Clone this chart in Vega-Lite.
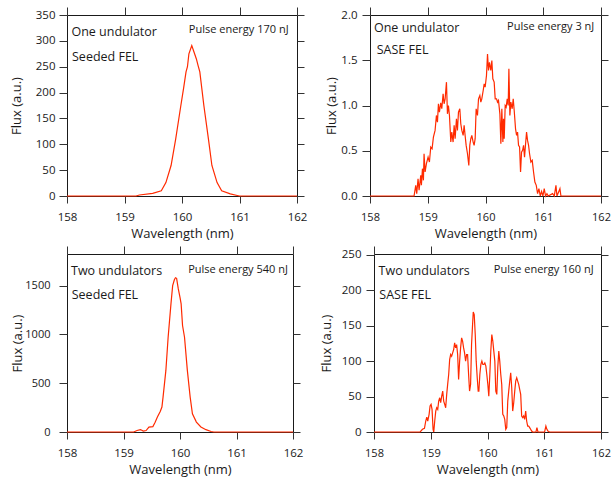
{
  "$schema": "https://vega.github.io/schema/vega-lite/v6.json",
  "padding": {"left": 9, "top": 6, "right": 0, "bottom": 0},
  "background": "white",
  "config": {
    "font": "Open Sans",
    "view": {"stroke": "#1a1a1a", "strokeWidth": 1},
    "axis": {"labelFont": "Open Sans", "labelFontSize": 11.5, "labelColor": "#1a1a1a", "titleFont": "Open Sans", "titleFontSize": 13, "titleFontWeight": "normal", "titleColor": "#1a1a1a", "tickColor": "#333333", "domain": false, "grid": false, "labelFlush": false, "labelOverlap": false},
    "text": {"font": "Open Sans", "color": "#1a1a1a"},
    "line": {"color": "#ff2a00", "strokeWidth": 1.2}
  },
  "spacing": 4,
  "vconcat": [
    {
      "spacing": 17,
      "hconcat": [
        {
          "width": 230, "height": 181,
          "data": {"values": [
            {"nm":158,"flux":0},{"nm":159.2,"flux":0},{"nm":159.26,"flux":2},{"nm":159.49,"flux":5},{"nm":159.64,"flux":10},{"nm":159.72,"flux":26},{"nm":159.81,"flux":59},{"nm":159.89,"flux":110},{"nm":159.98,"flux":175},{"nm":160.03,"flux":210},{"nm":160.07,"flux":240},{"nm":160.095,"flux":250},{"nm":160.12,"flux":275},{"nm":160.17,"flux":291},{"nm":160.21,"flux":278},{"nm":160.25,"flux":265},{"nm":160.28,"flux":252},{"nm":160.31,"flux":240},{"nm":160.38,"flux":175},{"nm":160.46,"flux":110},{"nm":160.52,"flux":59},{"nm":160.61,"flux":26},{"nm":160.69,"flux":10},{"nm":160.84,"flux":4},{"nm":160.96,"flux":1},{"nm":161.0,"flux":0},{"nm":162,"flux":0}
          ]},
          "layer": [
            {"mark": {"type": "line"},
             "encoding": {
               "x": {"field": "nm", "type": "quantitative", "scale": {"domain": [158, 162], "nice": false, "zero": false}, "axis": {"orient": "bottom", "values": [158,159,160,161,162], "title": "Wavelength (nm)", "tickSize": 7, "labelPadding": 8, "titlePadding": 5}},
               "y": {"field": "flux", "type": "quantitative", "scale": {"domain": [0, 350], "nice": false}, "axis": {"orient": "left", "values": [0,50,100,150,200,250,300,350], "title": "Flux (a.u.)", "tickSize": 8, "labelPadding": 4, "titlePadding": 12}}
             }},
            {"data": {"values": [{"label": "One undulator"}]},
             "mark": {"type": "text", "align": "left", "baseline": "alphabetic", "fontSize": 12.5},
             "encoding": {"text": {"field": "label"},
               "x": {"datum": 158.077, "type": "quantitative", "axis": {"orient": "top", "values": [158,159,160,161,162], "labels": false, "title": null, "tickSize": 8}},
               "y": {"datum": 309, "type": "quantitative", "axis": {"orient": "right", "values": [0,50,100,150,200,250,300,350], "labels": false, "title": null, "tickSize": 7}}}},
            {"data": {"values": [{"label": "Seeded FEL"}]},
             "mark": {"type": "text", "align": "left", "baseline": "alphabetic", "fontSize": 12.5},
             "encoding": {"text": {"field": "label"},
               "x": {"datum": 158.087, "type": "quantitative", "axis": null},
               "y": {"datum": 261.6, "type": "quantitative", "axis": null}}},
            {"data": {"values": [{"label": "Pulse energy 170 nJ"}]},
             "mark": {"type": "text", "align": "right", "baseline": "alphabetic", "fontSize": 11},
             "encoding": {"text": {"field": "label"},
               "x": {"datum": 161.854, "type": "quantitative", "axis": null},
               "y": {"datum": 316, "type": "quantitative", "axis": null}}}
          ],
          "resolve": {"axis": {"x": "independent", "y": "independent"}}
        },
        {
          "width": 231, "height": 181,
          "data": {"values": [
            {"nm":158,"flux":0},{"nm":158.763,"flux":0},{"nm":158.792,"flux":0.118},{"nm":158.809,"flux":0.026},{"nm":158.832,"flux":0.191},{"nm":158.85,"flux":0.063},{"nm":158.879,"flux":0.228},{"nm":158.89,"flux":0.118},{"nm":158.908,"flux":0.302},{"nm":158.925,"flux":0.173},{"nm":158.936,"flux":0.467},{"nm":158.954,"flux":0.265},{"nm":158.977,"flux":0.357},{"nm":159.006,"flux":0.43},{"nm":159.029,"flux":0.375},{"nm":159.052,"flux":0.541},{"nm":159.075,"flux":0.522},{"nm":159.098,"flux":0.651},{"nm":159.127,"flux":0.725},{"nm":159.15,"flux":0.89},{"nm":159.168,"flux":0.816},{"nm":159.185,"flux":1.019},{"nm":159.202,"flux":0.927},{"nm":159.225,"flux":1.03},{"nm":159.243,"flux":0.964},{"nm":159.266,"flux":1.129},{"nm":159.283,"flux":1.019},{"nm":159.301,"flux":1.074},{"nm":159.324,"flux":1.258},{"nm":159.341,"flux":0.908},{"nm":159.358,"flux":1.0},{"nm":159.376,"flux":0.89},{"nm":159.399,"flux":0.596},{"nm":159.416,"flux":0.706},{"nm":159.439,"flux":0.596},{"nm":159.457,"flux":0.78},{"nm":159.474,"flux":0.633},{"nm":159.497,"flux":0.853},{"nm":159.514,"flux":0.725},{"nm":159.532,"flux":0.927},{"nm":159.555,"flux":0.964},{"nm":159.572,"flux":0.798},{"nm":159.59,"flux":0.725},{"nm":159.613,"flux":0.669},{"nm":159.63,"flux":0.78},{"nm":159.647,"flux":0.669},{"nm":159.665,"flux":0.559},{"nm":159.688,"flux":0.467},{"nm":159.711,"flux":0.338},{"nm":159.728,"flux":0.559},{"nm":159.746,"flux":0.633},{"nm":159.763,"flux":0.669},{"nm":159.786,"flux":0.596},{"nm":159.803,"flux":0.559},{"nm":159.821,"flux":0.633},{"nm":159.838,"flux":0.964},{"nm":159.861,"flux":0.89},{"nm":159.879,"flux":1.074},{"nm":159.902,"flux":1.111},{"nm":159.919,"flux":1.037},{"nm":159.936,"flux":1.074},{"nm":159.96,"flux":1.166},{"nm":159.977,"flux":1.239},{"nm":159.994,"flux":1.203},{"nm":160.017,"flux":1.331},{"nm":160.035,"flux":1.57},{"nm":160.052,"flux":1.387},{"nm":160.069,"flux":1.478},{"nm":160.092,"flux":1.387},{"nm":160.11,"flux":1.497},{"nm":160.127,"flux":1.295},{"nm":160.15,"flux":1.258},{"nm":160.168,"flux":1.074},{"nm":160.191,"flux":1.074},{"nm":160.208,"flux":1.037},{"nm":160.225,"flux":1.056},{"nm":160.249,"flux":0.908},{"nm":160.266,"flux":0.577},{"nm":160.283,"flux":0.964},{"nm":160.301,"flux":0.596},{"nm":160.312,"flux":0.853},{"nm":160.324,"flux":0.633},{"nm":160.341,"flux":1.0},{"nm":160.358,"flux":0.982},{"nm":160.376,"flux":1.074},{"nm":160.393,"flux":1.0},{"nm":160.405,"flux":1.405},{"nm":160.422,"flux":0.89},{"nm":160.439,"flux":1.037},{"nm":160.462,"flux":0.964},{"nm":160.48,"flux":1.074},{"nm":160.497,"flux":0.945},{"nm":160.52,"flux":0.743},{"nm":160.538,"flux":0.669},{"nm":160.555,"flux":0.706},{"nm":160.572,"flux":0.559},{"nm":160.59,"flux":0.541},{"nm":160.607,"flux":0.265},{"nm":160.624,"flux":0.485},{"nm":160.642,"flux":0.504},{"nm":160.659,"flux":0.559},{"nm":160.676,"flux":0.43},{"nm":160.694,"flux":0.577},{"nm":160.711,"flux":0.706},{"nm":160.728,"flux":0.614},{"nm":160.746,"flux":0.559},{"nm":160.763,"flux":0.467},{"nm":160.786,"flux":0.375},{"nm":160.809,"flux":0.394},{"nm":160.832,"flux":0.265},{"nm":160.855,"flux":0.154},{"nm":160.879,"flux":0.118},{"nm":160.902,"flux":0.026},{"nm":160.925,"flux":0.081},{"nm":160.948,"flux":0},{"nm":160.971,"flux":0.051},{"nm":160.994,"flux":0},{"nm":161.017,"flux":0.081},{"nm":161.04,"flux":0},{"nm":161.064,"flux":0.026},{"nm":161.087,"flux":0},{"nm":161.162,"flux":0.026},{"nm":161.191,"flux":0},{"nm":161.22,"flux":0.118},{"nm":161.237,"flux":0},{"nm":161.266,"flux":0.044},{"nm":161.289,"flux":0.081},{"nm":161.306,"flux":0},{"nm":162,"flux":0}
          ]},
          "layer": [
            {"mark": {"type": "line"},
             "encoding": {
               "x": {"field": "nm", "type": "quantitative", "scale": {"domain": [158, 162], "nice": false, "zero": false}, "axis": {"orient": "bottom", "values": [158,159,160,161,162], "title": "Wavelength (nm)", "tickSize": 7, "labelPadding": 8, "titlePadding": 5, "labelFontSize": 11}},
               "y": {"field": "flux", "type": "quantitative", "scale": {"domain": [0, 2], "nice": false}, "axis": {"orient": "left", "values": [0,0.5,1,1.5,2], "format": ".1f", "title": "Flux (a.u.)", "tickSize": 8, "labelPadding": 5, "titlePadding": 2}}
             }},
            {"data": {"values": [{"label": "One undulator"}]},
             "mark": {"type": "text", "align": "left", "baseline": "alphabetic", "fontSize": 12.5},
             "encoding": {"text": {"field": "label"},
               "x": {"datum": 158.069, "type": "quantitative", "axis": {"orient": "top", "values": [158,159,160,161,162], "labels": false, "title": null, "tickSize": 8}},
               "y": {"datum": 1.812, "type": "quantitative", "axis": {"orient": "right", "values": [0,0.5,1,1.5,2], "labels": false, "title": null, "tickSize": 7}}}},
            {"data": {"values": [{"label": "SASE FEL"}]},
             "mark": {"type": "text", "align": "left", "baseline": "alphabetic", "fontSize": 12.5},
             "encoding": {"text": {"field": "label"},
               "x": {"datum": 158.116, "type": "quantitative", "axis": null},
               "y": {"datum": 1.57, "type": "quantitative", "axis": null}}},
            {"data": {"values": [{"label": "Pulse energy 3 nJ"}]},
             "mark": {"type": "text", "align": "right", "baseline": "alphabetic", "fontSize": 11},
             "encoding": {"text": {"field": "label"},
               "x": {"datum": 161.884, "type": "quantitative", "axis": null},
               "y": {"datum": 1.829, "type": "quantitative", "axis": null}}}
          ],
          "resolve": {"axis": {"x": "independent", "y": "independent"}}
        }
      ]
    },
    {
      "spacing": 15,
      "hconcat": [
        {
          "width": 226, "height": 178,
          "data": {"values": [
            {"nm":158,"flux":0},{"nm":159.18,"flux":0},{"nm":159.24,"flux":15},{"nm":159.3,"flux":25},{"nm":159.35,"flux":10},{"nm":159.4,"flux":15},{"nm":159.45,"flux":50},{"nm":159.52,"flux":55},{"nm":159.56,"flux":100},{"nm":159.6,"flux":153},{"nm":159.65,"flux":210},{"nm":159.68,"flux":256},{"nm":159.7,"flux":358},{"nm":159.75,"flux":631},{"nm":159.79,"flux":971},{"nm":159.84,"flux":1313},{"nm":159.87,"flux":1500},{"nm":159.9,"flux":1560},{"nm":159.92,"flux":1580},{"nm":159.94,"flux":1575},{"nm":159.97,"flux":1466},{"nm":160.0,"flux":1380},{"nm":160.02,"flux":1313},{"nm":160.045,"flux":1091},{"nm":160.08,"flux":971},{"nm":160.13,"flux":631},{"nm":160.18,"flux":358},{"nm":160.22,"flux":187},{"nm":160.29,"flux":102},{"nm":160.37,"flux":51},{"nm":160.46,"flux":24},{"nm":160.55,"flux":5},{"nm":160.6,"flux":0},{"nm":162,"flux":0}
          ]},
          "layer": [
            {"mark": {"type": "line"},
             "encoding": {
               "x": {"field": "nm", "type": "quantitative", "scale": {"domain": [158, 162], "nice": false, "zero": false}, "axis": {"orient": "bottom", "values": [158,159,160,161,162], "title": "Wavelength (nm)", "tickSize": 7, "labelPadding": 8, "titlePadding": 5}},
               "y": {"field": "flux", "type": "quantitative", "scale": {"domain": [0, 1824], "nice": false}, "axis": {"orient": "left", "values": [0,500,1000,1500], "format": "d", "title": "Flux (a.u.)", "tickSize": 8, "labelPadding": 9, "labelFontSize": 11, "titlePadding": 0}}
             }},
            {"data": {"values": [{"label": "Two undulators"}]},
             "mark": {"type": "text", "align": "left", "baseline": "alphabetic", "fontSize": 12.5},
             "encoding": {"text": {"field": "label"},
               "x": {"datum": 158.071, "type": "quantitative", "axis": {"orient": "top", "values": [158,159,160,161,162], "labels": false, "title": null, "tickSize": 8}},
               "y": {"datum": 1612, "type": "quantitative", "axis": {"orient": "right", "values": [0,500,1000,1500], "labels": false, "title": null, "tickSize": 7}}}},
            {"data": {"values": [{"label": "Seeded FEL"}]},
             "mark": {"type": "text", "align": "left", "baseline": "alphabetic", "fontSize": 12.5},
             "encoding": {"text": {"field": "label"},
               "x": {"datum": 158.084, "type": "quantitative", "axis": null},
               "y": {"datum": 1367, "type": "quantitative", "axis": null}}},
            {"data": {"values": [{"label": "Pulse energy 540 nJ"}]},
             "mark": {"type": "text", "align": "right", "baseline": "alphabetic", "fontSize": 11},
             "encoding": {"text": {"field": "label"},
               "x": {"datum": 161.91, "type": "quantitative", "axis": null},
               "y": {"datum": 1633, "type": "quantitative", "axis": null}}}
          ],
          "resolve": {"axis": {"x": "independent", "y": "independent"}}
        },
        {
          "width": 227, "height": 178,
          "data": {"values": [
            {"nm":158,"flux":0},{"nm":158.813,"flux":0},{"nm":158.854,"flux":3.8},{"nm":158.889,"flux":5.2},{"nm":158.912,"flux":15.5},{"nm":158.93,"flux":21.1},{"nm":158.947,"flux":15.5},{"nm":158.971,"flux":24.9},{"nm":158.988,"flux":36.6},{"nm":159.006,"flux":38.9},{"nm":159.023,"flux":31.9},{"nm":159.041,"flux":3.8},{"nm":159.053,"flux":0},{"nm":159.07,"flux":15.5},{"nm":159.088,"flux":29.5},{"nm":159.105,"flux":34.2},{"nm":159.123,"flux":31.9},{"nm":159.14,"flux":43.6},{"nm":159.158,"flux":48.3},{"nm":159.175,"flux":41.3},{"nm":159.193,"flux":50.6},{"nm":159.211,"flux":57.7},{"nm":159.228,"flux":43.6},{"nm":159.246,"flux":38.9},{"nm":159.263,"flux":34.2},{"nm":159.281,"flux":53.0},{"nm":159.298,"flux":67.1},{"nm":159.316,"flux":81.1},{"nm":159.333,"flux":102.2},{"nm":159.351,"flux":109.3},{"nm":159.368,"flux":106.9},{"nm":159.386,"flux":111.6},{"nm":159.404,"flux":116.3},{"nm":159.421,"flux":125.7},{"nm":159.439,"flux":118.6},{"nm":159.456,"flux":123.3},{"nm":159.474,"flux":109.3},{"nm":159.491,"flux":74.1},{"nm":159.509,"flux":99.9},{"nm":159.526,"flux":118.6},{"nm":159.544,"flux":132.7},{"nm":159.561,"flux":128.0},{"nm":159.579,"flux":118.6},{"nm":159.596,"flux":111.6},{"nm":159.614,"flux":99.9},{"nm":159.632,"flux":109.3},{"nm":159.649,"flux":109.3},{"nm":159.667,"flux":81.1},{"nm":159.684,"flux":57.7},{"nm":159.702,"flux":67.1},{"nm":159.719,"flux":123.3},{"nm":159.737,"flux":151.5},{"nm":159.749,"flux":169.3},{"nm":159.766,"flux":165.5},{"nm":159.784,"flux":137.4},{"nm":159.801,"flux":99.9},{"nm":159.819,"flux":76.4},{"nm":159.836,"flux":57.7},{"nm":159.848,"flux":57.7},{"nm":159.865,"flux":81.1},{"nm":159.883,"flux":95.2},{"nm":159.901,"flux":99.9},{"nm":159.918,"flux":95.2},{"nm":159.936,"flux":95.2},{"nm":159.953,"flux":97.5},{"nm":159.971,"flux":92.9},{"nm":159.988,"flux":81.1},{"nm":160.006,"flux":67.1},{"nm":160.023,"flux":50.6},{"nm":160.041,"flux":81.1},{"nm":160.058,"flux":114.0},{"nm":160.076,"flux":137.4},{"nm":160.094,"flux":128.0},{"nm":160.111,"flux":114.0},{"nm":160.129,"flux":99.9},{"nm":160.146,"flux":57.7},{"nm":160.164,"flux":53.0},{"nm":160.181,"flux":90.5},{"nm":160.199,"flux":114.0},{"nm":160.216,"flux":99.9},{"nm":160.234,"flux":81.1},{"nm":160.251,"flux":67.1},{"nm":160.269,"flux":24.9},{"nm":160.287,"flux":22.5},{"nm":160.304,"flux":17.8},{"nm":160.322,"flux":3.8},{"nm":160.339,"flux":6.1},{"nm":160.357,"flux":43.6},{"nm":160.374,"flux":57.7},{"nm":160.392,"flux":71.8},{"nm":160.409,"flux":83.5},{"nm":160.427,"flux":62.4},{"nm":160.444,"flux":29.5},{"nm":160.462,"flux":41.3},{"nm":160.48,"flux":57.7},{"nm":160.497,"flux":71.8},{"nm":160.515,"flux":76.4},{"nm":160.532,"flux":71.8},{"nm":160.55,"flux":67.1},{"nm":160.567,"flux":60.0},{"nm":160.585,"flux":53.0},{"nm":160.602,"flux":22.5},{"nm":160.62,"flux":20.2},{"nm":160.637,"flux":22.5},{"nm":160.655,"flux":17.8},{"nm":160.673,"flux":29.5},{"nm":160.69,"flux":15.5},{"nm":160.708,"flux":8.4},{"nm":160.725,"flux":8.4},{"nm":160.743,"flux":6.1},{"nm":160.76,"flux":3.8},{"nm":160.778,"flux":1.4},{"nm":160.795,"flux":0},{"nm":160.854,"flux":0},{"nm":160.871,"flux":6.1},{"nm":160.889,"flux":0},{"nm":161.006,"flux":0},{"nm":161.029,"flux":8.4},{"nm":161.047,"flux":3.8},{"nm":161.064,"flux":1.4},{"nm":161.094,"flux":0},{"nm":162,"flux":0}
          ]},
          "layer": [
            {"mark": {"type": "line"},
             "encoding": {
               "x": {"field": "nm", "type": "quantitative", "scale": {"domain": [158, 162], "nice": false, "zero": false}, "axis": {"orient": "bottom", "values": [158,159,160,161,162], "title": "Wavelength (nm)", "tickSize": 7, "labelPadding": 8, "titlePadding": 5, "labelFontSize": 11}},
               "y": {"field": "flux", "type": "quantitative", "scale": {"domain": [0, 251], "nice": false}, "axis": {"orient": "left", "values": [0,50,100,150,200,250], "title": "Flux (a.u.)", "tickSize": 8, "labelPadding": 5, "titlePadding": 8}}
             }},
            {"data": {"values": [{"label": "Two undulators"}]},
             "mark": {"type": "text", "align": "left", "baseline": "alphabetic", "fontSize": 12.5},
             "encoding": {"text": {"field": "label"},
               "x": {"datum": 158.081, "type": "quantitative", "axis": {"orient": "top", "values": [158,159,160,161,162], "labels": false, "title": null, "tickSize": 8}},
               "y": {"datum": 221, "type": "quantitative", "axis": {"orient": "right", "values": [0,50,100,150,200,250], "labels": false, "title": null, "tickSize": 7}}}},
            {"data": {"values": [{"label": "SASE FEL"}]},
             "mark": {"type": "text", "align": "left", "baseline": "alphabetic", "fontSize": 12.5},
             "encoding": {"text": {"field": "label"},
               "x": {"datum": 158.093, "type": "quantitative", "axis": null},
               "y": {"datum": 188, "type": "quantitative", "axis": null}}},
            {"data": {"values": [{"label": "Pulse energy 160 nJ"}]},
             "mark": {"type": "text", "align": "right", "baseline": "alphabetic", "fontSize": 11},
             "encoding": {"text": {"field": "label"},
               "x": {"datum": 161.87, "type": "quantitative", "axis": null},
               "y": {"datum": 224.7, "type": "quantitative", "axis": null}}}
          ],
          "resolve": {"axis": {"x": "independent", "y": "independent"}}
        }
      ]
    }
  ]
}
